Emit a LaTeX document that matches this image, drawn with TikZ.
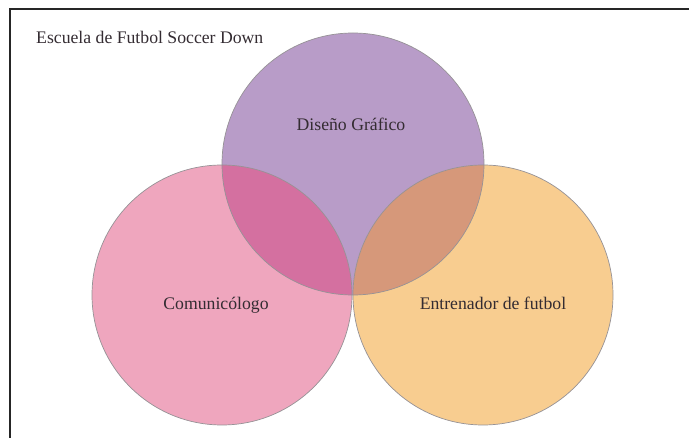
\documentclass[tikz,border=0pt]{standalone}
\usepackage{fontspec}
\setmainfont{Liberation Serif}
\definecolor{cpurple}{RGB}{184,156,200}
\definecolor{cpink}{RGB}{239,166,190}
\definecolor{corange}{RGB}{248,205,144}
\definecolor{cpinkpur}{RGB}{212,112,160}
\definecolor{corapur}{RGB}{214,152,122}
\definecolor{ctext}{RGB}{52,44,50}
\definecolor{cedge}{RGB}{150,146,150}
\begin{document}
\begin{tikzpicture}[x=1pt,y=-1pt,
  lbl/.style={font=\fontsize{17.7}{20}\selectfont, text=ctext, inner sep=0pt},
  rim/.style={draw=cedge, line width=0.7pt}]
\useasboundingbox (0,0) rectangle (689,438);
\fill[white] (0,0) rectangle (689,438);
\coordinate (fbl) at (10,438);
\coordinate (ftl) at (10,9);
\coordinate (ftr) at (689,9);
\draw[line width=1.3pt, black!85] (fbl) -- (ftl) -- (ftr);
% circles
\fill[cpurple] (353,164) circle (131);
\fill[cpink] (222,295) circle (130);
\fill[corange] (483,295) circle (130);
\begin{scope}
  \clip (353,164) circle (131);
  \fill[cpinkpur] (222,295) circle (130);
  \fill[corapur] (483,295) circle (130);
\end{scope}
\draw[rim] (353,164) circle (131);
\draw[rim] (222,295) circle (130);
\draw[rim] (483,295) circle (130);
% texts
\node[lbl, anchor=base west] (title) at (36,44) {Escuela de Futbol Soccer Down};
\node[lbl, anchor=base] (dg) at (351,131) {Diseño Gráfico};
\node[lbl, anchor=base] (com) at (216,310) {Comunicólogo};
\node[lbl, anchor=base] (ent) at (493,310) {Entrenador de futbol};
\end{tikzpicture}
\end{document}
